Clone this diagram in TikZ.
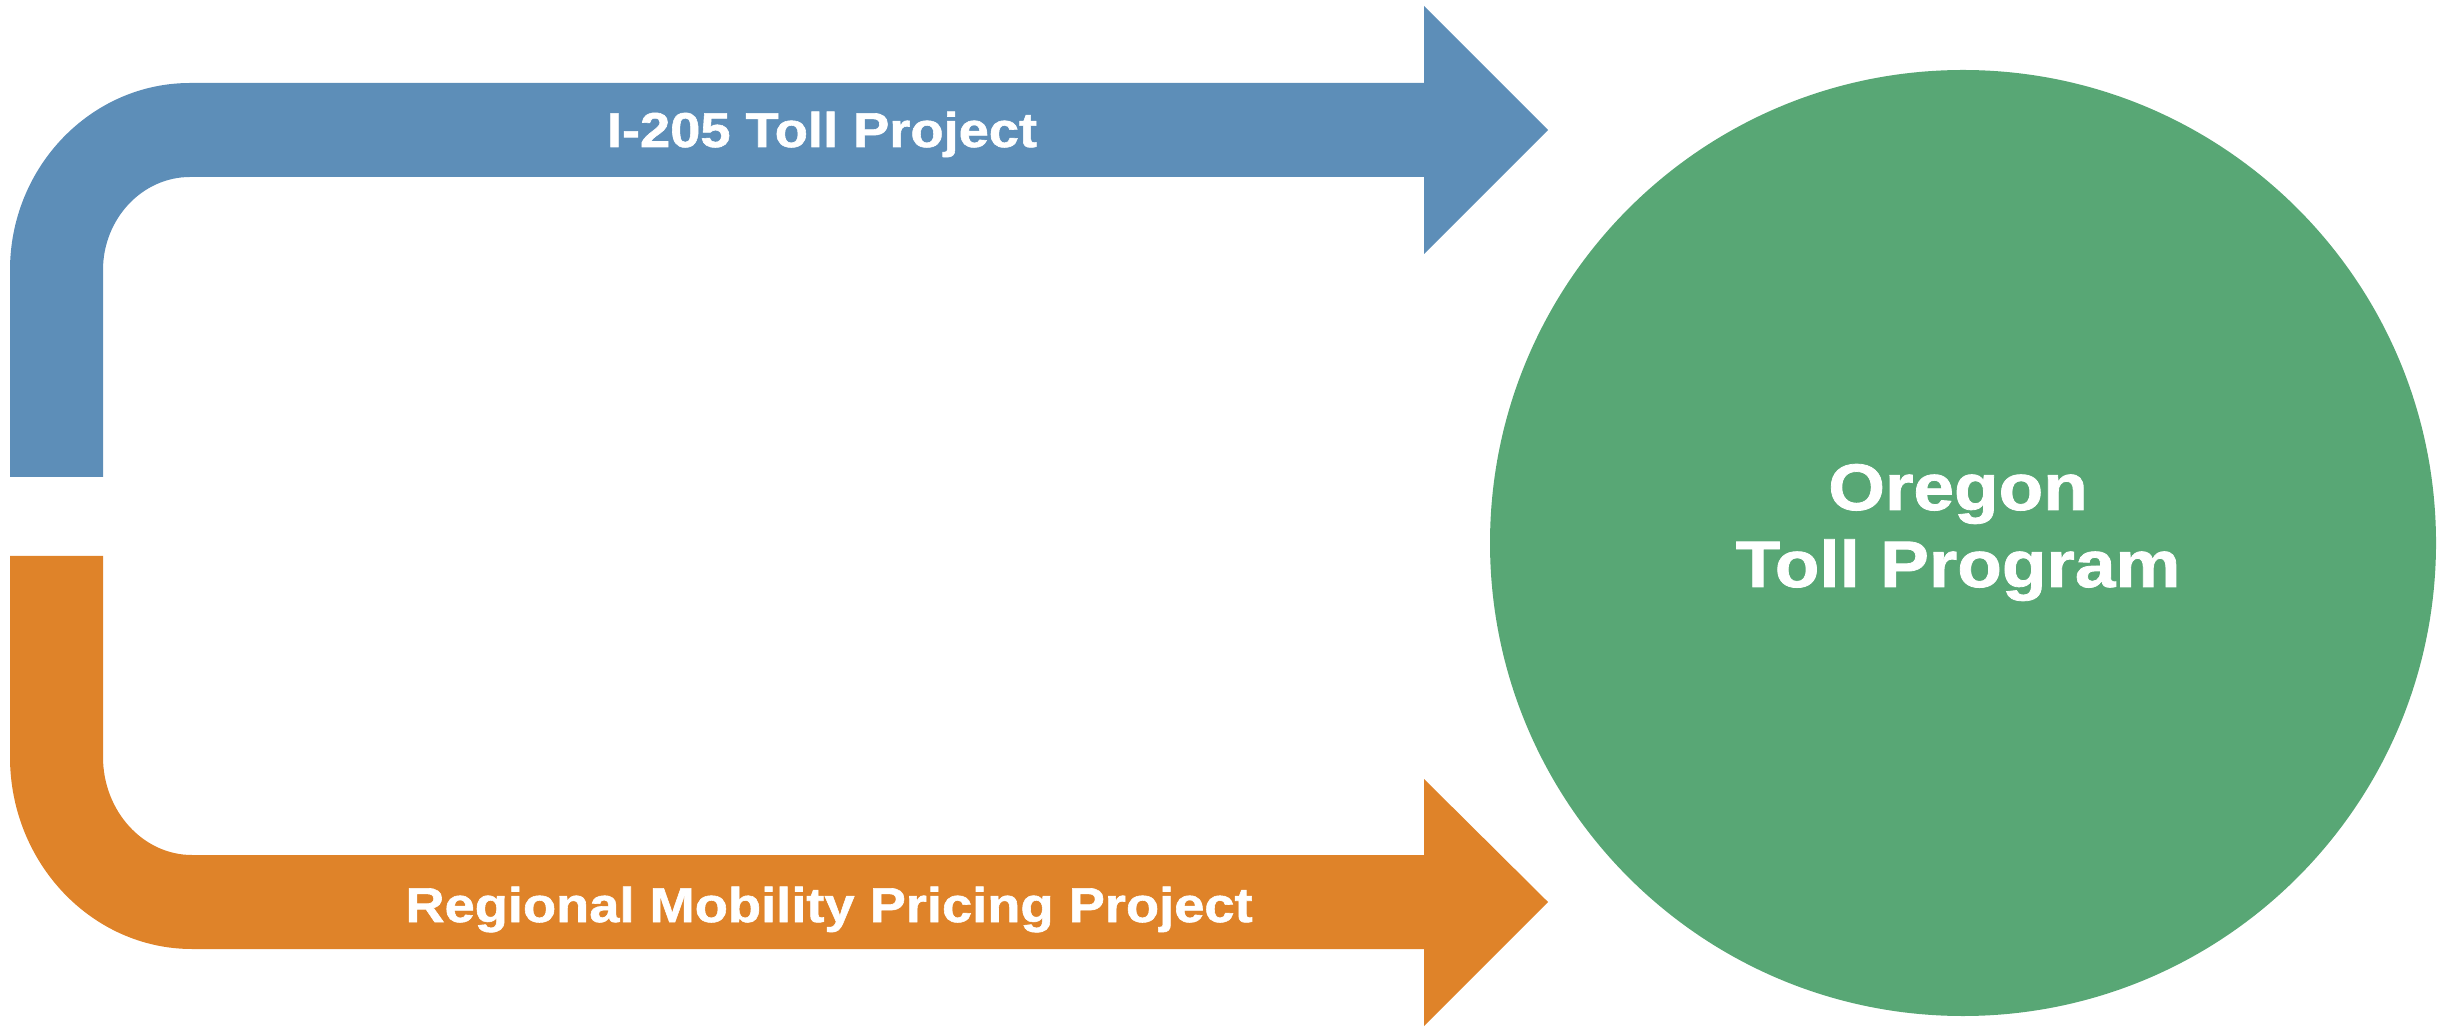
\documentclass[tikz,border=0pt]{standalone}
\usepackage{fontspec}
\setmainfont{Liberation Sans}
\newfontfamily\heavyfont{Liberation Sans}[UprightFont=*-Bold, FakeStretch=1.11, FakeBold=1.2]
\definecolor{cblue}{RGB}{93,142,184}
\definecolor{corange}{RGB}{223,131,41}
\definecolor{cgreen}{RGB}{88,167,117}
\tikzset{
  lbl/.style={text=white, font=\heavyfont\fontsize{13.9}{16}\selectfont, anchor=base, inner sep=0pt},
  biglbl/.style={text=white, font=\heavyfont\fontsize{18.7}{22}\selectfont, anchor=base, inner sep=0pt},
}
\begin{document}
\begin{tikzpicture}[x=0.01cm, y=-0.01cm]
\useasboundingbox (0,0) rectangle (2440,1028);
% top arrow
\fill[cblue] (10,477) -- (10,270) .. controls (10,167) and (91,83) .. (190,83)
  -- (1424,83) -- (1424,6) -- (1548,130) -- (1424,254) -- (1424,177) -- (190,177)
  .. controls (142,177) and (103,219) .. (103,270) -- (103,477) -- cycle;
% bottom arrow
\fill[corange] (10,556) -- (10,757) .. controls (10,863) and (92,949) .. (192,949)
  -- (1424,949) -- (1424,1026) -- (1548,902) -- (1424,779) -- (1424,855) -- (192,855)
  .. controls (143,855) and (103,811) .. (103,757) -- (103,556) -- cycle;
% circle
\fill[cgreen] (1963,543) circle[radius=473];
% labels
\node[lbl] (top) at (822,147) {I-205 Toll Project};
\node[lbl] (bot) at (829,922) {Regional Mobility Pricing Project};
\node[biglbl] (or1) at (1958,510) {Oregon};
\node[biglbl] (or2) at (1958,587) {Toll Program};
\end{tikzpicture}
\end{document}
